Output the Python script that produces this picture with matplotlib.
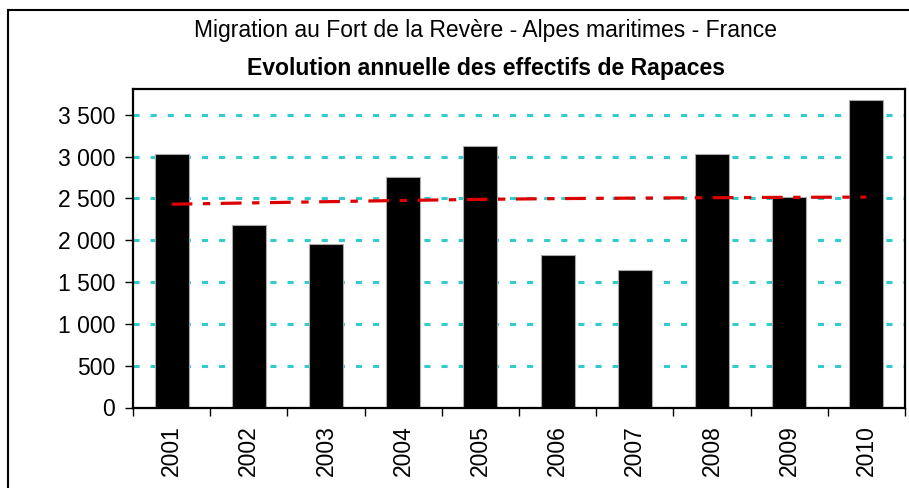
import matplotlib.pyplot as plt
from matplotlib.lines import Line2D

plt.rcParams['font.family'] = ['Liberation Sans', 'DejaVu Sans']

# donnees
annees = ["2001", "2002", "2003", "2004", "2005", "2006", "2007", "2008", "2009", "2010"]
effectifs = [3030, 2183, 1960, 2756, 3127, 1824, 1649, 3035, 2517, 3672]
tendance = [2430, 2445, 2460, 2475, 2488, 2497, 2503, 2508, 2512, 2515]
y_ticks = [0, 500, 1000, 1500, 2000, 2500, 3000, 3500]
y_labels = ["0", "500", "1 000", "1 500", "2 000", "2 500", "3 000", "3 500"]

fig = plt.figure(figsize=(9.09, 4.88), dpi=100)
ax = fig.add_axes([133/909, 1 - 407.5/488, 772/909, 318.5/488])

x = list(range(len(annees)))
ax.bar(x, effectifs, width=0.44, color="black", edgecolor="#aaaaaa", linewidth=0.8, zorder=2)
ax.plot(x, tendance, color="#DD0000", linewidth=2.3, linestyle=(0, (6.5, 3.3, 2.3, 3.3)), zorder=3)

ax.set_xlim(-0.5, len(annees) - 0.5)
ax.set_ylim(0, 3807)
ax.set_yticks(y_ticks)
ax.set_yticklabels(y_labels, fontsize=16.5)
ax.yaxis.grid(True, color="#33CCCC", linewidth=2.2, linestyle=(0, (2, 3.6)), zorder=0)
ax.set_axisbelow(True)

# ticks x entre les categories, libelles au centre
ax.set_xticks([i - 0.5 for i in range(len(annees) + 1)])
ax.set_xticklabels([])
ax.set_xticks(x, minor=True)
ax.set_xticklabels(annees, minor=True, rotation=90, fontsize=16.5)
ax.tick_params(axis="x", which="minor", length=0, pad=13)
ax.tick_params(axis="x", which="major", length=6, width=1, direction="out")
ax.tick_params(axis="y", length=6, width=1, pad=7)
for s in ax.spines.values():
    s.set_linewidth(1.6)

fig.text(486/909, 1 - 30/488, "Migration au Fort de la Revère - Alpes maritimes - France",
         ha="center", va="center", fontsize=16.5)
fig.text(486/909, 1 - 68/488, "Evolution annuelle des effectifs de Rapaces",
         ha="center", va="center", fontsize=16.6, fontweight="bold")

# cadre exterieur du graphique
fig.add_artist(Line2D([7.7/909, 1.0], [1 - 10/488, 1 - 10/488], color="black", linewidth=1.5,
                      transform=fig.transFigure))
fig.add_artist(Line2D([7.7/909, 7.7/909], [0, 1 - 10/488], color="black", linewidth=1.5,
                      transform=fig.transFigure))

fig.savefig("out.png", dpi=100)
